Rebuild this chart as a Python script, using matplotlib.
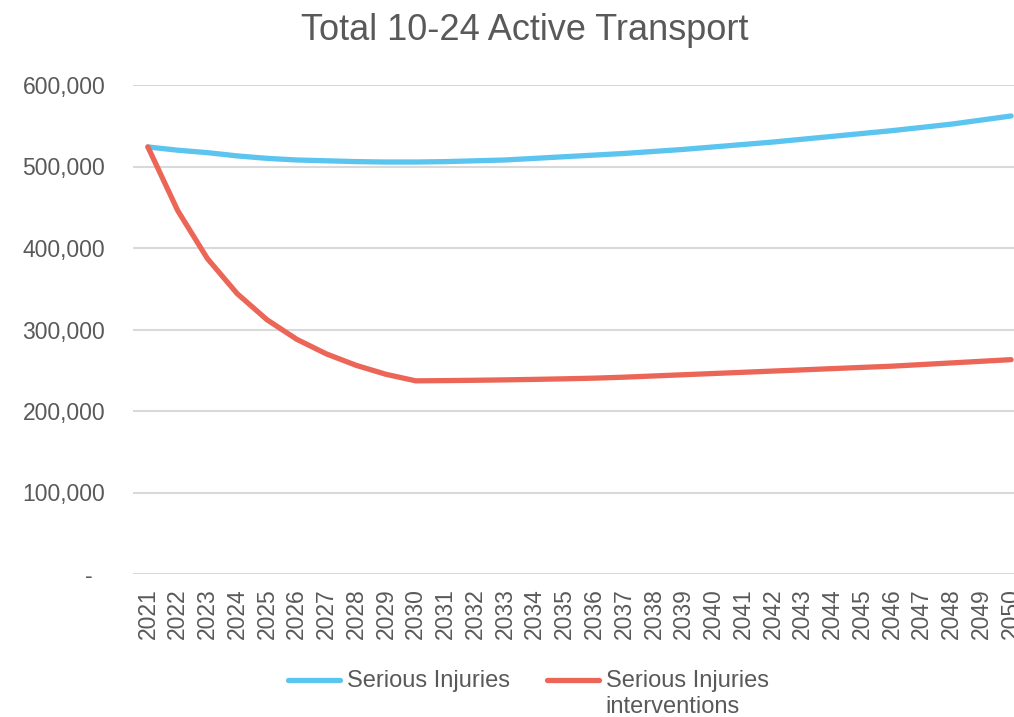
import matplotlib
matplotlib.use('Agg')
import matplotlib.pyplot as plt
import numpy as np
from matplotlib.ticker import FuncFormatter

plt.rcParams['font.family'] = ['Liberation Sans', 'DejaVu Sans']

years = list(range(2021, 2051))
serious = [524, 520, 517, 513, 510, 508, 507, 506, 505.5, 505.5,
           506, 507, 508, 510, 512, 514, 516, 518.5, 521, 524,
           527, 530, 533.5, 537, 540.5, 544, 548, 552, 557, 562]
interventions = [524, 446, 387, 344, 312, 288, 270, 256, 245, 237,
                 237.3, 237.7, 238.2, 238.8, 239.5, 240.3, 241.5, 243, 244.5, 246,
                 247.5, 249, 250.5, 252, 253.5, 255, 257, 259, 261, 263]
serious = [v * 1000 for v in serious]
interventions = [v * 1000 for v in interventions]
# trailing newline keeps both legend entries two lines tall
labels = ['Serious Injuries\n', 'Serious Injuries\ninterventions']

grey = '#595959'
fig = plt.figure(figsize=(10.14, 7.17), dpi=100)
# axes run past the right edge, like the cropped original
ax = fig.add_axes([133 / 1014, 1 - 574 / 717, (1026 - 133) / 1014, (574 - 85) / 717])

x = list(range(len(years)))
ax.plot(x, serious, color='#5BC5F0', lw=3.8, solid_capstyle='round', label=labels[0])
ax.plot(x, interventions, color='#EC6658', lw=3.8, solid_capstyle='round', label=labels[1])

ax.set_xlim(-0.5, len(years) - 0.5)
ax.set_ylim(0, 600000)
ax.set_yticks(range(0, 600001, 100000))
ax.yaxis.set_major_formatter(FuncFormatter(lambda v, p: '-  ' if v == 0 else f'{int(v):,}'))
ax.set_xticks(x)
ax.set_xticklabels([str(y) for y in years], rotation=90)
ax.tick_params(axis='y', length=0, pad=20, labelsize=16.5, labelcolor=grey)
ax.tick_params(axis='x', length=0, pad=10, labelsize=16.5, labelcolor=grey)
ax.grid(axis='y', color='#D9D9D9', lw=1.5)
ax.set_axisbelow(True)
for s in ax.spines.values():
    s.set_visible(False)

fig.text(525 / 1014, 1 - 31 / 717, 'Total 10-24 Active Transport', ha='center', va='center',
         fontsize=26, color=grey)

leg = fig.legend(loc='upper center', bbox_to_anchor=(0.521, 1 - 649 / 717), ncol=2, frameon=False,
                 fontsize=17, handlelength=2.2, handletextpad=0.3, columnspacing=1.55)
for t in leg.get_texts():
    t.set_color(grey)
# move the handles up to the first text line
for ln in leg.get_lines():
    ln.set_ydata(np.asarray(ln.get_ydata()) + 10)

fig.savefig('out.png', dpi=100)
